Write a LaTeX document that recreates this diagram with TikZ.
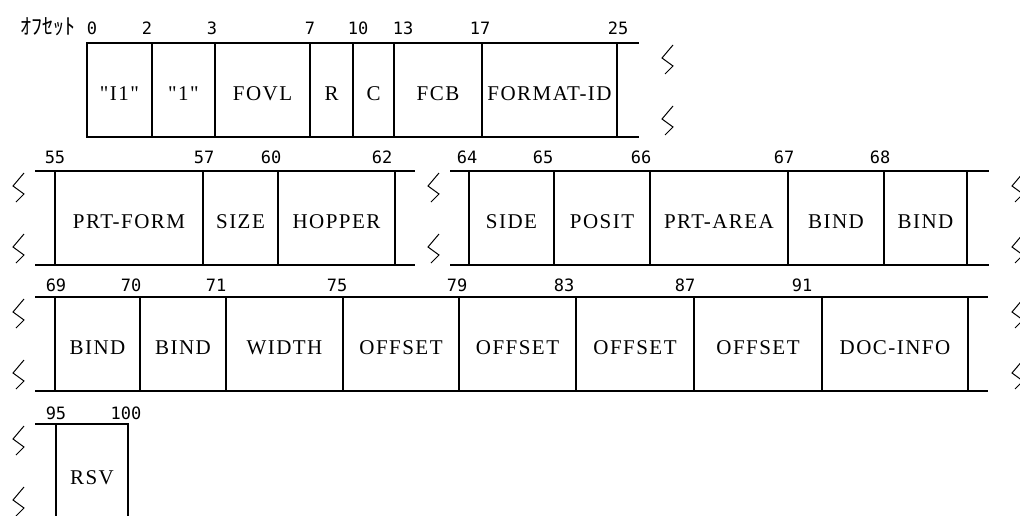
\documentclass[tikz,border=0pt]{standalone}
\usepackage{fontspec}
\newfontfamily\fieldfont[LetterSpace=7]{Liberation Serif}
\newfontfamily\numfont{DejaVu Sans Mono}
\newfontfamily\jpfont{Noto Sans CJK JP}
\begin{document}
\begin{tikzpicture}[
    x=1pt, y=-1pt,
    field/.style={rectangle, draw, line width=1.1pt, anchor=north west, outer sep=0pt, inner sep=0pt, minimum height=94pt, text height=20pt, text depth=0pt, font=\fieldfont\fontsize{21}{23}\selectfont},
    ofs/.style={inner sep=0pt, font=\numfont\fontsize{17}{19}\selectfont},
    rule/.style={line width=1.1pt},
    brk/.style={line width=1pt}
]
\useasboundingbox (0,0) rectangle (1020,515);
% row 1
\node[inner sep=0pt, font=\jpfont\fontsize{22}{23}\selectfont] (ofslbl) at (48,27) {ｵﾌｾｯﾄ};
\node[field, minimum width=65pt]  (i1)    at (87,43)  {"I1"};
\node[field, minimum width=63pt]  (one)   at (152,43) {"1"};
\node[field, minimum width=95pt]  (fovl)  at (215,43) {FOVL};
\node[field, minimum width=43pt]  (rfld)  at (310,43) {R};
\node[field, minimum width=41pt]  (cfld)  at (353,43) {C};
\node[field, minimum width=88pt]  (fcb)   at (394,43) {FCB};
\node[field, minimum width=135pt] (fmtid) at (482,43) {FORMAT-ID};
\draw[rule] (fmtid.north east) -- ++(22,0);
\draw[rule] (fmtid.south east) -- ++(22,0);
\node[ofs] (o0)  at (92,28)  {0};
\node[ofs] (o2)  at (147,28) {2};
\node[ofs] (o3)  at (212,28) {3};
\node[ofs] (o7)  at (310,28) {7};
\node[ofs] (o10) at (358,28) {10};
\node[ofs] (o13) at (403,28) {13};
\node[ofs] (o17) at (480,28) {17};
\node[ofs] (o25) at (618,28) {25};
\draw[brk] (673,45)  -- ++(-11,13) -- ++(11,8) -- ++(-8,8);
\draw[brk] (673,106) -- ++(-11,13) -- ++(11,8) -- ++(-8,8);
% row 2
\node[field, minimum width=148pt] (pform)  at (55,171)  {PRT-FORM};
\node[field, minimum width=75pt]  (size)   at (203,171) {SIZE};
\node[field, minimum width=117pt] (hopper) at (278,171) {HOPPER};
\draw[rule] (pform.north west) -- ++(-20,0);
\draw[rule] (pform.south west) -- ++(-20,0);
\draw[rule] (hopper.north east) -- ++(20,0);
\draw[rule] (hopper.south east) -- ++(20,0);
\node[field, minimum width=85pt]  (side)  at (469,171) {SIDE};
\node[field, minimum width=96pt]  (posit) at (554,171) {POSIT};
\node[field, minimum width=138pt] (parea) at (650,171) {PRT-AREA};
\node[field, minimum width=96pt]  (bind1) at (788,171) {BIND};
\node[field, minimum width=83pt]  (bind2) at (884,171) {BIND};
\draw[rule] (side.north west) -- ++(-19,0);
\draw[rule] (side.south west) -- ++(-19,0);
\draw[rule] (bind2.north east) -- ++(22,0);
\draw[rule] (bind2.south east) -- ++(22,0);
\node[ofs] (o55) at (55,157)  {55};
\node[ofs] (o57) at (204,157) {57};
\node[ofs] (o60) at (271,157) {60};
\node[ofs] (o62) at (382,157) {62};
\node[ofs] (o64) at (467,157) {64};
\node[ofs] (o65) at (543,157) {65};
\node[ofs] (o66) at (641,157) {66};
\node[ofs] (o67) at (784,157) {67};
\node[ofs] (o68) at (880,157) {68};
\draw[brk] (24,173)   -- ++(-11,13) -- ++(11,8) -- ++(-8,8);
\draw[brk] (24,234)   -- ++(-11,13) -- ++(11,8) -- ++(-8,8);
\draw[brk] (439,173)  -- ++(-11,13) -- ++(11,8) -- ++(-8,8);
\draw[brk] (439,234)  -- ++(-11,13) -- ++(11,8) -- ++(-8,8);
\draw[brk] (1023,173) -- ++(-11,13) -- ++(11,8) -- ++(-8,8);
\draw[brk] (1023,234) -- ++(-11,13) -- ++(11,8) -- ++(-8,8);
% row 3
\node[field, minimum width=85pt]  (bind3)   at (55,297)  {BIND};
\node[field, minimum width=86pt]  (bind4)   at (140,297) {BIND};
\node[field, minimum width=117pt] (fwidth)  at (226,297) {WIDTH};
\node[field, minimum width=116pt] (off1)    at (343,297) {OFFSET};
\node[field, minimum width=117pt] (off2)    at (459,297) {OFFSET};
\node[field, minimum width=118pt] (off3)    at (576,297) {OFFSET};
\node[field, minimum width=128pt] (off4)    at (694,297) {OFFSET};
\node[field, minimum width=146pt] (docinfo) at (822,297) {DOC-INFO};
\draw[rule] (bind3.north west) -- ++(-20,0);
\draw[rule] (bind3.south west) -- ++(-20,0);
\draw[rule] (docinfo.north east) -- ++(20,0);
\draw[rule] (docinfo.south east) -- ++(20,0);
\node[ofs] (o69) at (56,285)  {69};
\node[ofs] (o70) at (131,285) {70};
\node[ofs] (o71) at (216,285) {71};
\node[ofs] (o75) at (337,285) {75};
\node[ofs] (o79) at (457,285) {79};
\node[ofs] (o83) at (564,285) {83};
\node[ofs] (o87) at (685,285) {87};
\node[ofs] (o91) at (802,285) {91};
\draw[brk] (24,299)   -- ++(-11,13) -- ++(11,8) -- ++(-8,8);
\draw[brk] (24,360)   -- ++(-11,13) -- ++(11,8) -- ++(-8,8);
\draw[brk] (1023,299) -- ++(-11,13) -- ++(11,8) -- ++(-8,8);
\draw[brk] (1023,360) -- ++(-11,13) -- ++(11,8) -- ++(-8,8);
% row 4
\node[field, minimum width=72pt, minimum height=100pt] (rsv) at (56,424) {RSV};
\draw[rule] (rsv.north west) -- ++(-21,0);
\node[ofs] (o95)  at (56,413)  {95};
\node[ofs] (o100) at (126,413) {100};
\draw[brk] (24,426) -- ++(-11,13) -- ++(11,8) -- ++(-8,8);
\draw[brk] (24,487) -- ++(-11,13) -- ++(11,8) -- ++(-8,8);
\end{tikzpicture}
\end{document}
